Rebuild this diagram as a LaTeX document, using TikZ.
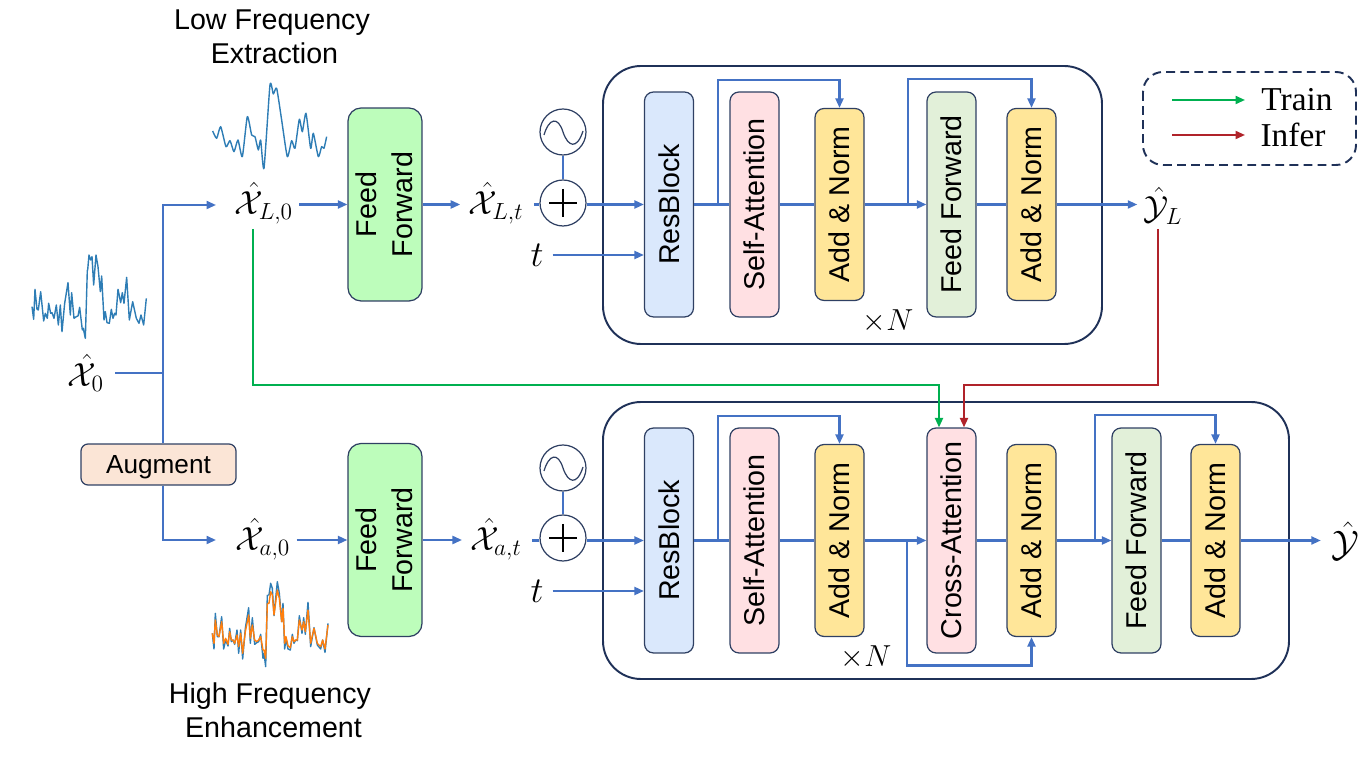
\documentclass[tikz,border=0pt]{standalone}
\usepackage{fix-cm}
\usepackage{graphicx}
\usepackage{fontspec}
\usetikzlibrary{arrows.meta}
\newfontfamily\boxfont{Liberation Sans}
\newfontfamily\legendfont{Liberation Serif}
\definecolor{flowblue}{HTML}{4472C4}
\definecolor{edgedark}{HTML}{2F4063}
\definecolor{framedark}{HTML}{1F3158}
\definecolor{trainclr}{HTML}{00B050}
\definecolor{inferclr}{HTML}{B0232A}
\definecolor{resfill}{HTML}{DAE8FC}
\definecolor{attfill}{HTML}{FFE0E3}
\definecolor{normfill}{HTML}{FFE699}
\definecolor{ffblock}{HTML}{E2F0D9}
\definecolor{ffgreen}{HTML}{BDFDBB}
\definecolor{augfill}{HTML}{FBE5D6}
\definecolor{waveblue}{HTML}{2E7DB5}
\definecolor{waveorange}{HTML}{FF7F0E}
\newcommand{\vlabel}[1]{\rotatebox{90}{#1}}
\newcommand{\fflabel}{\makebox[0pt]{\hspace*{.12cm}\vlabel{\begin{tabular}{@{}c@{}}Feed\\[1pt]Forward\end{tabular}}}}
\tikzset{
  txt/.style={font=\boxfont\fontsize{16.3}{19.4}\selectfont},
  block/.style={draw=edgedark,line width=.7pt,rounded corners=.18cm,inner sep=0pt,minimum width=.98cm,txt},
  tallblock/.style={block,minimum height=4.5cm},
  shortblock/.style={block,minimum height=3.84cm,fill=normfill},
  ffbig/.style={draw=edgedark,line width=.7pt,rounded corners=.26cm,inner sep=0pt,minimum width=1.48cm,minimum height=3.86cm,fill=ffgreen,txt},
  frame/.style={draw=framedark,line width=1.1pt,rounded corners=.76cm},
  flow/.style={draw=flowblue,line width=1.2pt,-{Triangle[length=.19cm,width=.16cm]}},
  flowline/.style={draw=flowblue,line width=1.2pt},
  train/.style={draw=trainclr,line width=1.15pt,-{Triangle[length=.19cm,width=.16cm]}},
  infer/.style={draw=inferclr,line width=1.15pt,-{Triangle[length=.19cm,width=.16cm]}},
  mathlabel/.style={inner xsep=.12cm,inner ysep=0pt,font=\fontsize{19}{22}\selectfont},
  wave/.style={draw=waveblue,line width=.8pt,line join=round},
  addcircle/.style={circle,draw=edgedark,line width=.7pt,minimum size=.92cm,inner sep=0pt,
    path picture={\draw[black,line width=1.6pt] (path picture bounding box.center) +(-14,0) -- +(14,0) +(0,-14) -- +(0,14);}},
  sinecircle/.style={circle,draw=edgedark,line width=.7pt,minimum size=.92cm,inner sep=0pt,
    path picture={\draw[edgedark,line width=.7pt] (path picture bounding box.center) ++(-19,3) .. controls +(5,-17) and +(-5,-16) .. ++(19,-3) .. controls +(5,15) and +(-6,19) .. ++(20,-1);}}
}
\begin{document}
\begin{tikzpicture}[x=.02cm,y=-.02cm]
\useasboundingbox (0,0) rectangle (1362,759);
% outer frames
\draw[frame] (603,66) rectangle (1102,344);
\draw[frame] (603,402) rectangle (1289,679);
\draw[draw=framedark,line width=1.1pt,dash pattern=on 5pt off 3pt,rounded corners=.4cm] (1143,72) rectangle (1356,165);
% upper row
\node[tallblock,fill=resfill] (resT) at (669,204.5) {\vlabel{ResBlock}};
\node[tallblock,fill=attfill] (selfT) at (754.5,204.5) {\vlabel{Self-Attention}};
\node[shortblock] (addT) at (839.5,204.5) {\vlabel{Add \& Norm}};
\node[tallblock,fill=ffblock] (ffT) at (951.5,204.5) {\vlabel{Feed Forward}};
\node[shortblock] (addTb) at (1031.5,204.5) {\vlabel{Add \& Norm}};
\node (timesT) at (888,321) {\LARGE$\times N$};
% lower row
\node[tallblock,fill=resfill] (resB) at (669,540.5) {\vlabel{ResBlock}};
\node[tallblock,fill=attfill] (selfB) at (754.5,540.5) {\vlabel{Self-Attention}};
\node[shortblock] (addB) at (839.5,540.5) {\vlabel{Add \& Norm}};
\node[tallblock,fill=attfill] (crossB) at (951.5,540.5) {\vlabel{Cross-Attention}};
\node[shortblock] (addBb) at (1031.5,540.5) {\vlabel{Add \& Norm}};
\node[tallblock,fill=ffblock] (ffB) at (1136.5,540.5) {\vlabel{Feed Forward}};
\node[shortblock] (addBc) at (1215.5,540.5) {\vlabel{Add \& Norm}};
\node (timesB) at (866,657) {\LARGE$\times N$};
% left part
\node[mathlabel] (xzero) at (86,373) {$\hat{\mathcal{X}}_0$};
\node[mathlabel] (xLz) at (264,203) {$\hat{\mathcal{X}}_{L,0}$};
\node[mathlabel] (xaz) at (263,539) {$\hat{\mathcal{X}}_{a,0}$};
\node[draw=edgedark,line width=.7pt,rounded corners=.14cm,fill=augfill,minimum width=3.1cm,minimum height=.82cm,inner sep=0pt,text depth=0pt,font=\boxfont\fontsize{14.9}{17}\selectfont] (aug) at (158.5,464.5) {Augment};
\node[ffbig] (ffL) at (385,204.5) {\fflabel};
\node[ffbig] (ffa) at (385,540) {\fflabel};
\node[mathlabel] (xLt) at (496,203) {$\hat{\mathcal{X}}_{L,t}$};
\node[mathlabel] (xat) at (496,539) {$\hat{\mathcal{X}}_{a,t}$};
\node[sinecircle] (sineT) at (563,132) {};
\node[addcircle] (plusT) at (563,203) {};
\node[sinecircle] (sineB) at (563,468) {};
\node[addcircle] (plusB) at (563,538) {};
\node[font=\huge] (tT) at (537,255) {$t$};
\node[font=\huge] (tB) at (537,591) {$t$};
\node[txt,align=center] (lowtxt) at (272,37) {Low Frequency\\\hspace*{.1cm}Extraction};
\node[txt,align=center] (hightxt) at (270,710) {High Frequency\\\hspace*{.14cm}Enhancement};
% outputs
\node[mathlabel] (yL) at (1163,206) {$\hat{\mathcal{Y}}_L$};
\node[inner sep=0pt,font=\fontsize{21}{24}\selectfont] (yout) at (1345,541) {$\hat{\mathcal{Y}}$};
% legend
\node[font=\legendfont\fontsize{19}{21}\selectfont] (trainlab) at (1297,100) {Train};
\node[font=\legendfont\fontsize{19}{21}\selectfont] (inferlab) at (1293,135) {Infer};
\coordinate (trainA) at (1172,100);
\coordinate (trainB) at (1245,100);
\coordinate (inferA) at (1172,135);
\coordinate (inferB) at (1245,135);
\draw[train] (trainA) -- (trainB);
\draw[infer] (inferA) -- (inferB);
% left connectors
\coordinate (split) at (163,373);
\coordinate (upL) at (216,205);
\coordinate (upa) at (216,540);
\draw[flowline,shorten <=.1cm] (xzero.east |- split) -- (split);
\draw[flow] (aug.north -| split) -- (split) |- (upL);
\draw[flow] (aug.south -| split) |- (upa);
\draw[flow] (xLz.east |- ffL.west) -- (ffL.west);
\draw[flow] (xaz.east |- ffa.west) -- (ffa.west);
\draw[flow,shorten >=.04cm] (ffL.east) -- (xLt.west |- ffL.east);
\draw[flow,shorten >=.04cm] (ffa.east) -- (xat.west |- ffa.east);
\draw[flowline,shorten <=.08cm] (xLt.east |- resT.west) -- (plusT.west |- resT.west);
\draw[flowline,shorten <=.08cm] (xat.east |- resB.west) -- (plusB.west |- resB.west);
\draw[draw=flowblue,line width=.6pt] (sineT) -- (plusT);
\draw[draw=flowblue,line width=.6pt] (sineB) -- (plusB);
\draw[flow] (plusT.east |- resT.west) -- (resT.west);
\draw[flow] (plusB.east |- resB.west) -- (resB.west);
\draw[flow,shorten <=.06cm] (tT.east |- 0,255) -- (resT.west |- 0,255);
\draw[flow,shorten <=.06cm] (tB.east |- 0,591) -- (resB.west |- 0,591);
% upper connectors
\draw[flowline] (resT.east) -- (selfT.west);
\draw[flowline] (selfT.east) -- (addT.west);
\draw[flow] (addT.east) -- (ffT.west);
\draw[flowline] (ffT.east) -- (addTb.west);
\draw[flow] (addTb.east) -- (addTb.east -| yL.west);
\coordinate (skipA) at (718,204.5);
\coordinate (skipB) at (908,204.5);
\draw[flow] (skipA) -- ++(0,-124.5) -| (addT.north);
\draw[flow] (skipB) -- ++(0,-125.5) -| (addTb.north);
% lower connectors
\draw[flowline] (resB.east) -- (selfB.west);
\draw[flowline] (selfB.east) -- (addB.west);
\draw[flow] (addB.east) -- (crossB.west);
\draw[flowline] (crossB.east) -- (addBb.west);
\draw[flow] (addBb.east) -- (ffB.west);
\draw[flowline] (ffB.east) -- (addBc.west);
\draw[flow,shorten >=.2cm] (addBc.east) -- (addBc.east -| yout.west);
\coordinate (skipC) at (718,540.5);
\coordinate (skipD) at (907,540.5);
\coordinate (skipE) at (1095,540.5);
\draw[flow] (skipC) -- ++(0,-124.5) -| (addB.north);
\draw[flow] (skipD) -- ++(0,125) -| (addBb.south);
\draw[flow] (skipE) -- ++(0,-125.5) -| (addBc.north);
% train and infer paths
\coordinate (trainstart) at (253,229);
\coordinate (inferstart) at (1158,229);
\draw[train] (trainstart) -- ++(0,156) -| ([xshift=-.25cm]crossB.north);
\draw[infer] (inferstart) -- ++(0,156) -| ([xshift=.25cm]crossB.north);
% waveforms
\begin{scope}[shift={(28,250)},x=.00667cm,y=-.00667cm]
\draw[wave] plot coordinates {(12,170) (17,208) (21,118) (27,178) (31,180) (38,125) (47,213) (52,190) (58,205) (62,160) (68,190) (72,188) (78,205) (85,165) (91,225) (97,165) (102,245) (110,160) (120,98) (127,195) (131,128) (138,205) (145,200) (150,198) (155,172) (163,240) (166,235) (172,265) (178,60)};
\end{scope}
\begin{scope}[shift={(88,250)},x=.00667cm,y=-.00667cm]
\draw[wave] plot coordinates {(-1,60) (3,15) (8,30) (12,20) (17,105) (24,15) (30,50) (37,125) (41,78) (48,210) (52,185) (57,218) (64,220) (70,178) (75,205) (80,190) (84,195) (90,118) (98,158) (103,128) (108,160) (116,82) (124,210) (134,155) (145,205) (153,220) (159,195) (167,225) (175,145)};
\end{scope}
\begin{scope}[x=.00667cm,y=-.00667cm]
\draw[wave] plot[smooth,tension=.35] coordinates {(638,393) (650,415) (662,380) (678,440) (690,422) (702,455) (714,420) (727,470) (742,350) (755,405) (765,410) (775,450) (782,420) (792,505) (810,255) (820,282) (830,265) (845,360) (862,470) (875,422) (885,445) (898,358) (907,395) (918,340) (932,445) (940,400) (955,470) (965,440) (972,445) (980,410)};
\end{scope}
\begin{scope}[shift={(208,575)},x=.00667cm,y=-.00667cm]
\draw[wave] plot coordinates {(13,175) (18,222) (22,115) (28,185) (33,185) (41,125) (47,222) (53,195) (60,213) (65,160) (70,200) (75,195) (80,208) (87,165) (92,235) (98,165) (104,252) (112,160) (122,98) (127,205) (133,128) (140,208) (146,203) (152,200) (158,178) (165,250) (168,235) (173,275) (178,60)};
\draw[wave,draw=waveorange] plot coordinates {(13,175) (18,205) (22,135) (28,180) (33,185) (41,140) (47,205) (53,190) (60,208) (65,170) (70,195) (75,195) (80,205) (87,180) (92,215) (98,175) (104,235) (112,170) (122,120) (127,190) (133,150) (140,195) (146,200) (152,195) (158,185) (165,225) (168,225) (173,250) (178,85)};
\end{scope}
\begin{scope}[shift={(268,575)},x=.00667cm,y=-.00667cm]
\draw[wave] plot coordinates {(-1,60) (3,60) (8,25) (13,40) (18,122) (28,20) (34,55) (41,140) (45,85) (50,222) (54,190) (60,222) (67,225) (73,178) (78,205) (83,195) (88,197) (94,122) (102,175) (107,128) (112,178) (120,82) (128,215) (138,158) (148,210) (158,222) (164,195) (171,232) (180,145)};
\draw[wave,draw=waveorange] plot coordinates {(-1,85) (3,85) (8,50) (13,60) (18,120) (28,45) (34,70) (41,140) (45,100) (50,205) (54,185) (60,212) (67,218) (73,185) (78,200) (83,195) (88,195) (94,135) (102,165) (107,140) (112,170) (120,105) (128,205) (138,160) (148,205) (158,215) (164,195) (171,222) (180,150)};
\end{scope}
\end{tikzpicture}
\end{document}
